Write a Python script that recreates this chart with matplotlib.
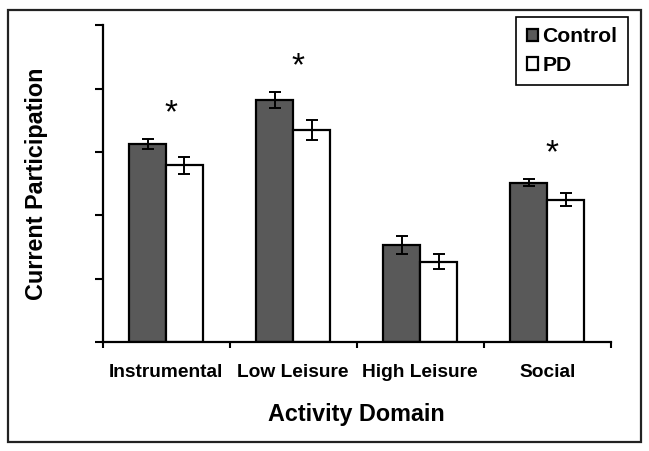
import matplotlib
matplotlib.use('Agg')
import matplotlib.pyplot as plt
import numpy as np

matplotlib.rcParams['font.family'] = 'Liberation Sans'
matplotlib.rcParams['font.weight'] = 'bold'
matplotlib.rcParams['axes.labelweight'] = 'bold'

# data (arbitrary units)
categories = ["Instrumental", "Low Leisure", "High Leisure", "Social"]
control = [3.13, 3.82, 1.53, 2.52]
control_err = [0.08, 0.12, 0.14, 0.06]
pd_vals = [2.79, 3.35, 1.27, 2.25]
pd_err = [0.13, 0.16, 0.115, 0.10]
significant = [True, True, False, True]

fig = plt.figure(figsize=(6.49, 4.51), dpi=100)
ax = fig.add_axes([0.158, 0.241, 0.783, 0.703])

# frame round the whole figure
fig.patches.append(plt.Rectangle((0.013, 0.02), 0.974, 0.957, transform=fig.transFigure,
                                 fill=False, edgecolor='#222222', linewidth=1.6))

x = np.arange(len(categories))
w = 0.29
ax.bar(x - w / 2, control, w, color='#595959', edgecolor='black', linewidth=1.6,
       yerr=control_err, error_kw=dict(elinewidth=1.4, capsize=4, capthick=1.4), label='Control')
ax.bar(x + w / 2, pd_vals, w, color='white', edgecolor='black', linewidth=1.6,
       yerr=pd_err, error_kw=dict(elinewidth=1.4, capsize=4, capthick=1.4), label='PD')

for i, s in enumerate(significant):
    if s:
        top = max(control[i] + control_err[i], pd_vals[i] + pd_err[i])
        ax.text(x[i] + 0.04, top + 0.4, '*', ha='center', va='center', fontsize=24,
                fontweight='normal')

ax.set_xlim(-0.5, len(categories) - 0.5)
ax.set_ylim(0, 5)
ax.set_yticks(np.arange(0, 6, 1))
ax.set_yticklabels([])
ax.set_xticks(x)
ax.set_xticklabels(categories, fontsize=13.8)
ax.set_xticks(np.arange(-0.5, len(categories), 1), minor=True)
ax.tick_params(axis='x', which='major', length=0, pad=15.5)
ax.tick_params(axis='x', which='minor', length=4, width=1.5, direction='out')
ax.tick_params(axis='y', length=6, width=1.5, direction='out')

for sp in ['top', 'right']:
    ax.spines[sp].set_visible(False)
for sp in ['left', 'bottom']:
    ax.spines[sp].set_linewidth(1.6)

ax.set_xlabel("Activity Domain", fontsize=16.8, labelpad=16)
ax.set_ylabel("Current Participation", fontsize=16.8, labelpad=30)

leg = ax.legend(loc='upper right', bbox_to_anchor=(1.055, 1.06), fontsize=15.2,
                handlelength=0.55, handleheight=0.55, handletextpad=0.2,
                fancybox=False, framealpha=1, edgecolor='black', borderpad=0.5,
                labelspacing=0.45)
leg.get_frame().set_linewidth(1.2)

fig.savefig('out.png', dpi=100)
